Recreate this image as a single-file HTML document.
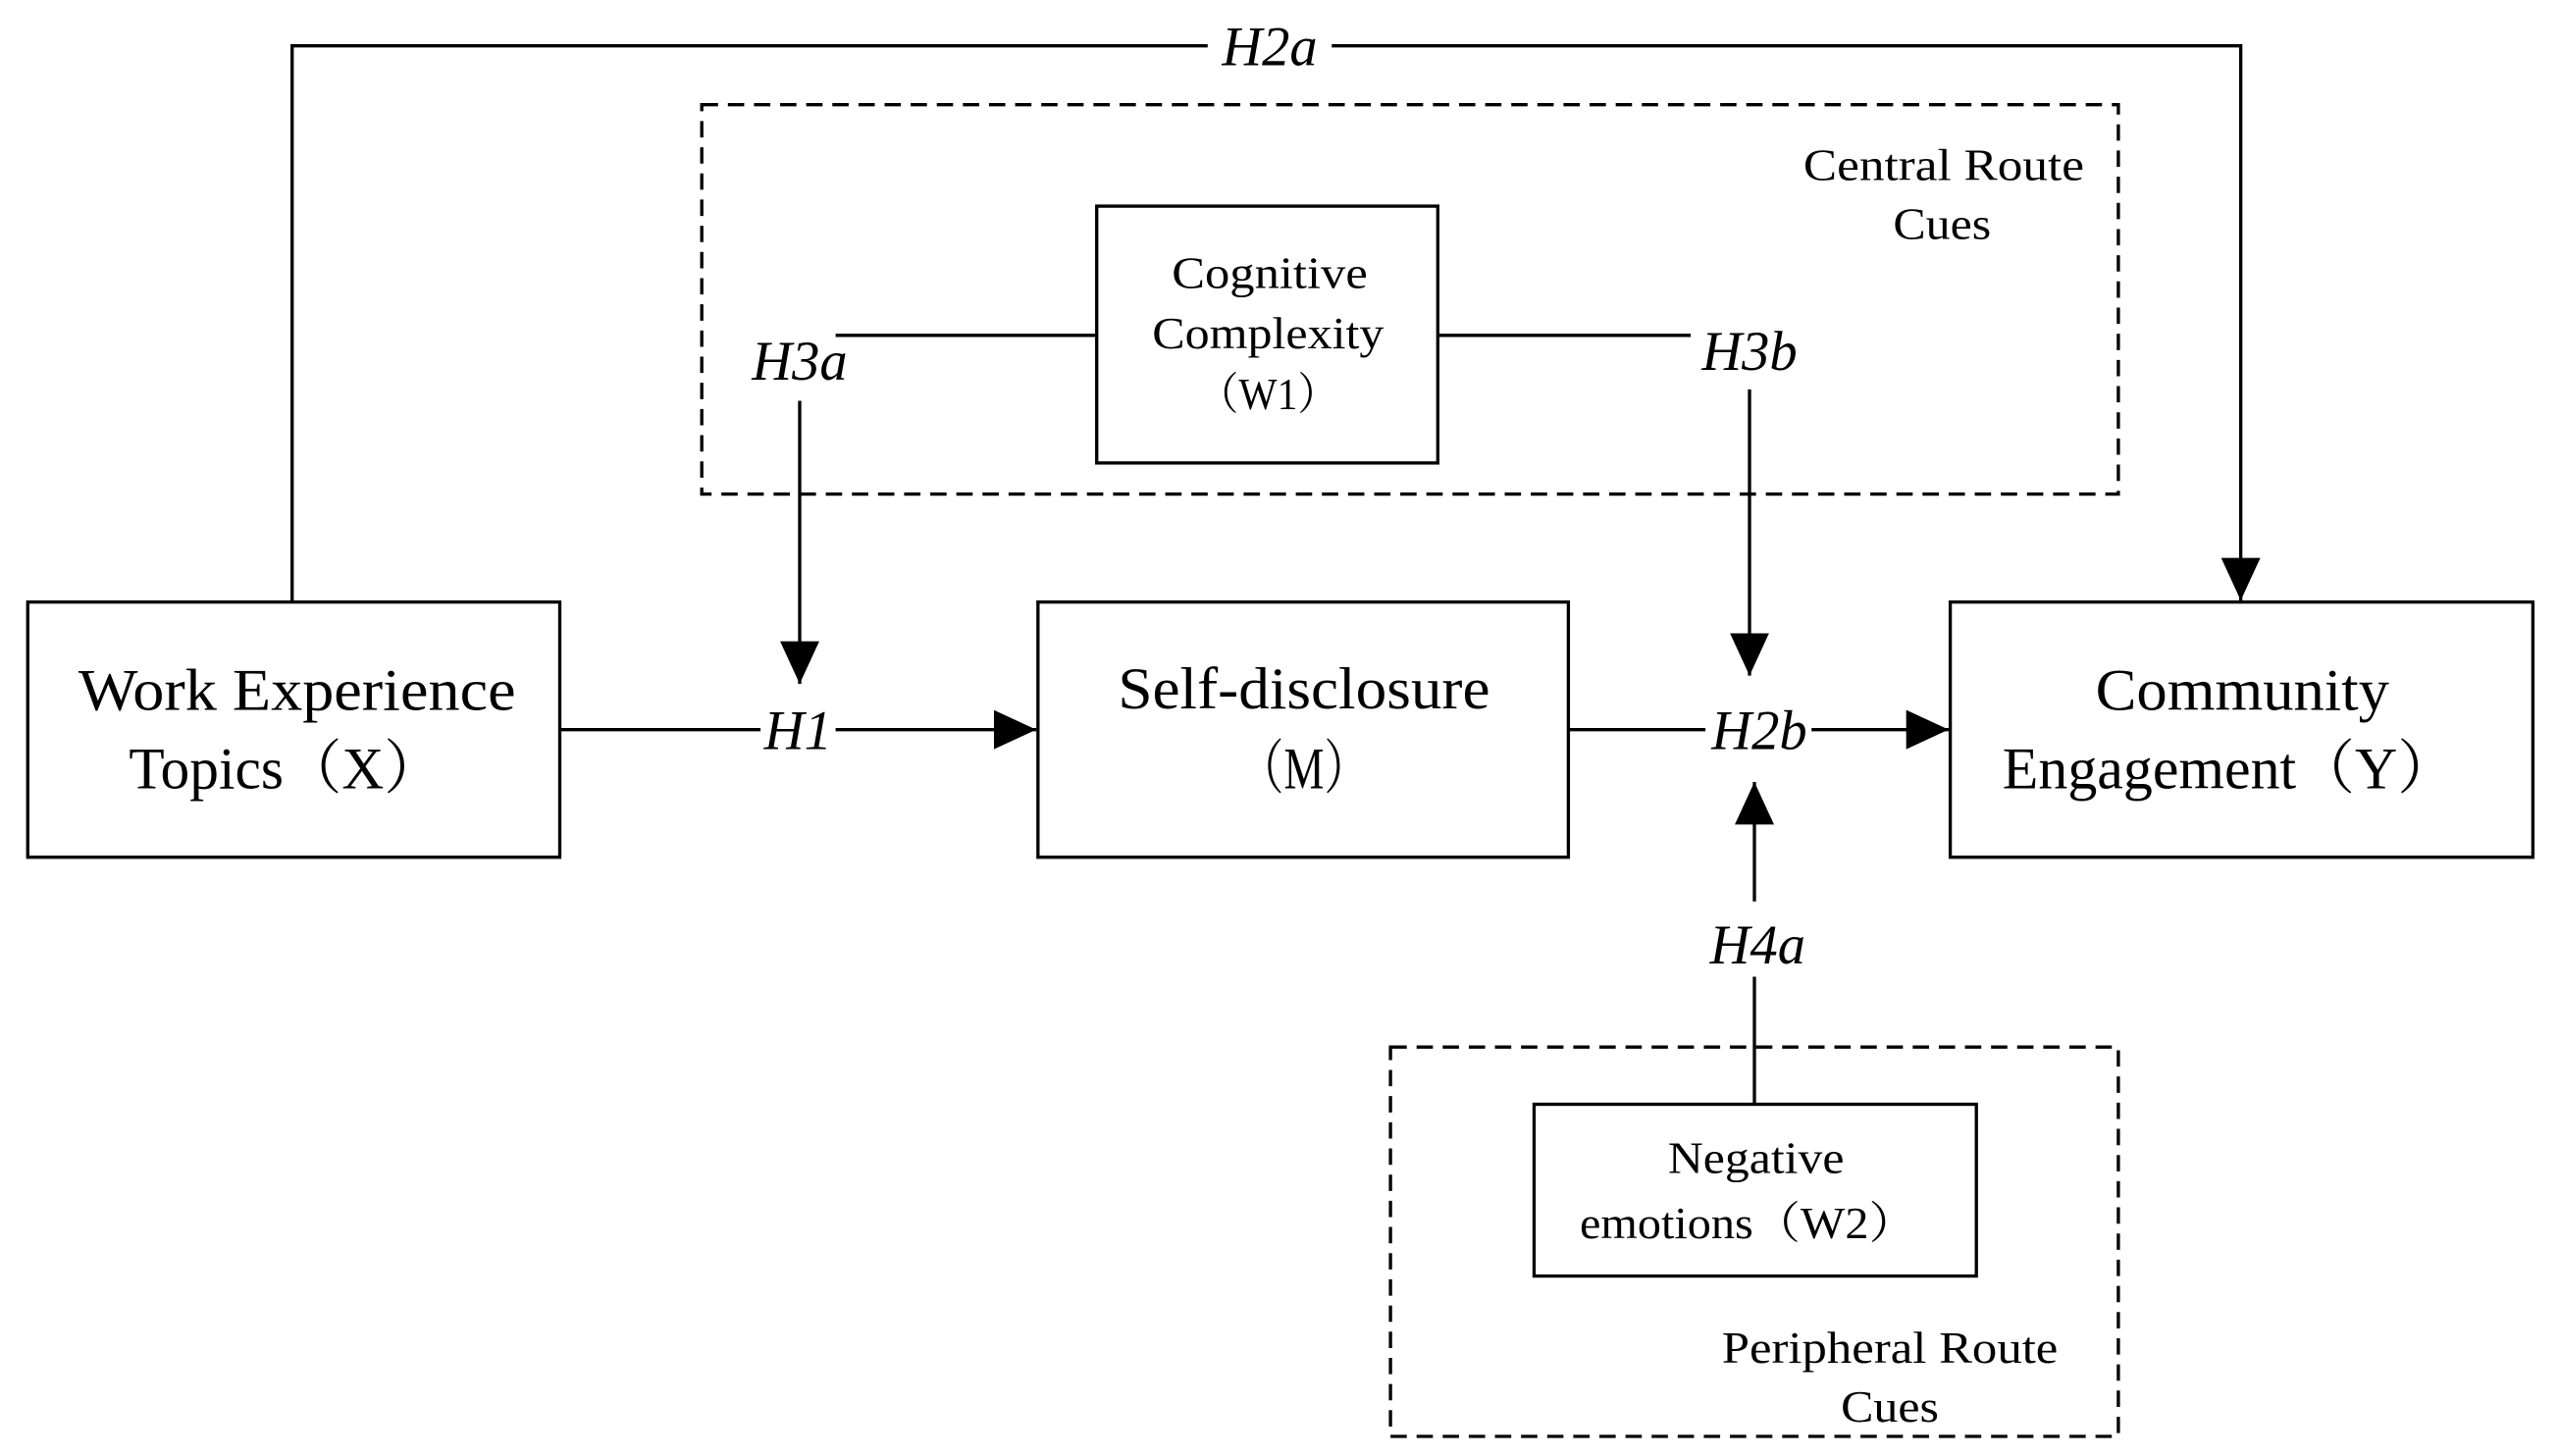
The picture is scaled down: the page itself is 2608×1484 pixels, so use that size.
<!DOCTYPE html>
<html><head><meta charset="utf-8"><style>html,body{margin:0;padding:0;background:#fff}svg{display:block}</style></head>
<body>
<svg width="2608" height="1484" viewBox="0 0 1568 890" preserveAspectRatio="none" xmlns="http://www.w3.org/2000/svg" font-family="'Liberation Serif','Noto Serif CJK SC',serif">
<defs><marker id="a" markerWidth="26" markerHeight="24" refX="26" refY="12" orient="auto" markerUnits="userSpaceOnUse"><path d="M0,0 L26,12 L0,24 Z" fill="#000"/></marker></defs>
<g fill="none" stroke="#000" stroke-width="2">
<rect x="17" y="368" width="326" height="156"/>
<rect x="636" y="368" width="325" height="156"/>
<rect x="1195" y="368" width="357" height="156"/>
<rect x="672" y="126" width="209" height="157"/>
<rect x="940" y="675" width="271" height="105"/>
<rect x="430" y="64" width="868" height="238" stroke-dasharray="10,6"/>
<rect x="852" y="640" width="446" height="238" stroke-dasharray="10,6"/>
<polyline points="179,367 179,28 740,28"/>
<polyline points="816,28 1373,28 1373,367" marker-end="url(#a)"/>
<line x1="512" y1="205" x2="672" y2="205"/>
<line x1="881" y1="205" x2="1036" y2="205"/>
<line x1="490" y1="245" x2="490" y2="418" marker-end="url(#a)"/>
<line x1="1072" y1="238" x2="1072" y2="413" marker-end="url(#a)"/>
<line x1="1075" y1="551" x2="1075" y2="478" marker-end="url(#a)"/>
<line x1="1075" y1="597" x2="1075" y2="675"/>
<line x1="343" y1="446" x2="466" y2="446"/>
<line x1="512" y1="446" x2="635" y2="446" marker-end="url(#a)"/>
<line x1="961" y1="446" x2="1045" y2="446"/>
<line x1="1110" y1="446" x2="1194" y2="446" marker-end="url(#a)"/>
</g>
<g fill="#000" text-anchor="middle" font-style="italic" font-size="34">
<text x="778" y="40">H2a</text>
<text x="490" y="232">H3a</text>
<text x="1072" y="226">H3b</text>
<text x="489" y="458">H1</text>
<text x="1078" y="458">H2b</text>
<text x="1077" y="589">H4a</text>
</g>
<g fill="#000" text-anchor="middle" font-size="36">
<text x="182" y="434" textLength="268" lengthAdjust="spacingAndGlyphs">Work Experience</text>
<text x="175" y="482" textLength="192" lengthAdjust="spacingAndGlyphs">Topics（X）</text>
<text x="799" y="433" textLength="228" lengthAdjust="spacingAndGlyphs">Self-disclosure</text>
<text x="799" y="482" textLength="80" lengthAdjust="spacingAndGlyphs">（M）</text>
<text x="1374" y="434" textLength="180" lengthAdjust="spacingAndGlyphs">Community</text>
<text x="1366" y="482" textLength="278" lengthAdjust="spacingAndGlyphs">Engagement（Y）</text>
</g>
<g fill="#000" text-anchor="middle" font-size="27">
<text x="778" y="176" textLength="120" lengthAdjust="spacingAndGlyphs">Cognitive</text>
<text x="777" y="213" textLength="142" lengthAdjust="spacingAndGlyphs">Complexity</text>
<text x="777" y="250" textLength="86" lengthAdjust="spacingAndGlyphs">（W1）</text>
<text x="1076" y="717" textLength="108" lengthAdjust="spacingAndGlyphs">Negative</text>
<text x="1071" y="757" textLength="206" lengthAdjust="spacingAndGlyphs">emotions（W2）</text>
<text x="1191" y="110" textLength="172" lengthAdjust="spacingAndGlyphs">Central Route</text>
<text x="1190" y="146" textLength="60" lengthAdjust="spacingAndGlyphs">Cues</text>
<text x="1158" y="833" textLength="206" lengthAdjust="spacingAndGlyphs">Peripheral Route</text>
<text x="1158" y="869" textLength="60" lengthAdjust="spacingAndGlyphs">Cues</text>
</g>
</svg>
</body></html>
